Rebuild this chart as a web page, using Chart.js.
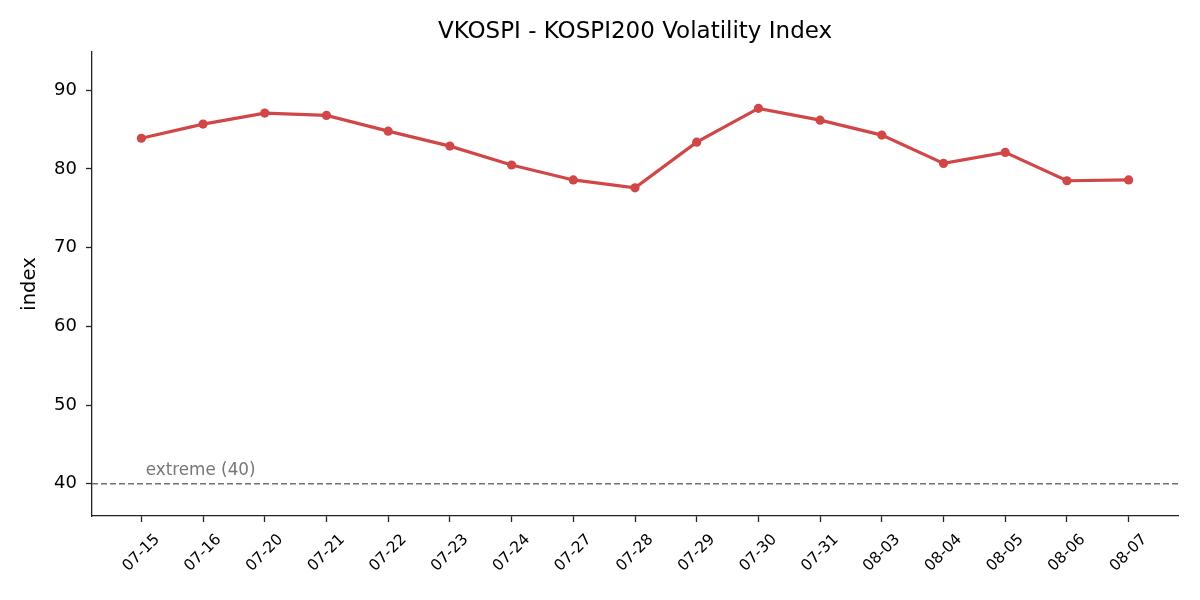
<!DOCTYPE html>
<html>
<head>
<meta charset="utf-8">
<script src="https://cdn.jsdelivr.net/npm/chart.js@4.4.1/dist/chart.umd.min.js"></script>
<style>
  html, body { margin: 0; padding: 0; background: #fff; }
  #wrap { width: 1200px; height: 600px; }
</style>
</head>
<body>
<div id="wrap"><canvas id="chart" width="1200" height="600"></canvas></div>
<script>
// data
const dates = ['07-15','07-16','07-20','07-21','07-22','07-23','07-24','07-27','07-28',
               '07-29','07-30','07-31','08-03','08-04','08-05','08-06','08-07']
const vkospi = [83.9, 85.7, 87.1, 86.8, 84.8, 82.9, 80.5, 78.6, 77.6,
                83.4, 87.7, 86.2, 84.3, 80.7, 82.1, 78.5, 78.6]
const yTicks = [40, 50, 60, 70, 80, 90]
const extremeLevel = 40
const extremeLabel = 'extreme (40)'

const FONT = "'DejaVu Sans', sans-serif"
const AXIS = '#222'

// x labels centred under each tick, turned 45deg like the original
const xLabelPlugin = {
  id: 'xLabels',
  afterDraw(chart){
    const ctx = chart.ctx
    const xs = chart.scales.x
    ctx.save()
    ctx.font = '15.5px ' + FONT
    ctx.fillStyle = '#000'
    ctx.textAlign = 'center'
    ctx.textBaseline = 'middle'
    dates.forEach((d, i) => {
      ctx.save()
      ctx.translate(xs.getPixelForValue(i), xs.top + 37)
      ctx.rotate(-Math.PI / 4)
      ctx.fillText(d, 0, 0)
      ctx.restore()
    })
    // label of the extreme line
    const ys = chart.scales.y
    ctx.font = '16.8px ' + FONT
    ctx.fillStyle = '#777'
    ctx.textAlign = 'left'
    ctx.textBaseline = 'alphabetic'
    ctx.fillText(extremeLabel, xs.getPixelForValue(0.07), ys.getPixelForValue(extremeLevel) - 9)
    ctx.restore()
  }
}

const points = vkospi.map((v, i) => ({x: i, y: v}))
const extremeLine = [{x: -0.8, y: extremeLevel}, {x: dates.length - 1 + 0.8, y: extremeLevel}]

new Chart(document.getElementById('chart'), {
  type: 'line',
  data: {
    datasets: [
      {
        label: 'extreme',
        data: extremeLine,
        borderColor: 'rgb(110,110,125)',
        borderWidth: 1.4,
        borderDash: [6, 3],
        pointRadius: 0,
        fill: false
      },
      {
        label: 'VKOSPI',
        data: points,
        borderColor: 'rgb(209,70,70)',
        backgroundColor: 'rgb(209,70,70)',
        borderWidth: 3.2,
        pointRadius: 4.6,
        pointBorderWidth: 0,
        tension: 0,
        fill: false
      }
    ]
  },
  options: {
    responsive: false,
    animation: false,
    layout: { padding: { top: 0, left: 0, right: 22, bottom: 0 } },
    plugins: {
      legend: { display: false },
      tooltip: { enabled: false },
      title: {
        display: true,
        fullSize: false,
        text: 'VKOSPI - KOSPI200 Volatility Index',
        color: '#000',
        font: { family: FONT, size: 23, weight: 'normal' },
        padding: { top: 18, bottom: 6.4 }
      }
    },
    scales: {
      x: {
        type: 'linear',
        min: -0.8,
        max: dates.length - 1 + 0.8,
        afterBuildTicks: (s) => { s.ticks = dates.map((_, i) => ({value: i})) },
        afterFit: (s) => { s.height = 84 },
        ticks: { display: false },
        grid: { drawOnChartArea: false, drawTicks: true, tickLength: 6, tickColor: AXIS, tickWidth: 1.3 },
        border: { display: true, color: AXIS, width: 1.3 }
      },
      y: {
        min: 35.9,
        max: 94.86,
        afterBuildTicks: (s) => { s.ticks = yTicks.map(v => ({value: v})) },
        afterFit: (s) => { s.width = 92 },
        ticks: { color: '#000', font: { family: FONT, size: 18 }, padding: 9 },
        grid: { drawOnChartArea: false, drawTicks: true, tickLength: 6, tickColor: AXIS, tickWidth: 1.3 },
        border: { display: true, color: AXIS, width: 1.3 },
        title: {
          display: true,
          text: 'index',
          color: '#000',
          font: { family: FONT, size: 19.5 },
          padding: { top: 18, bottom: 0 }
        }
      }
    }
  },
  plugins: [xLabelPlugin]
})
</script>
</body>
</html>
